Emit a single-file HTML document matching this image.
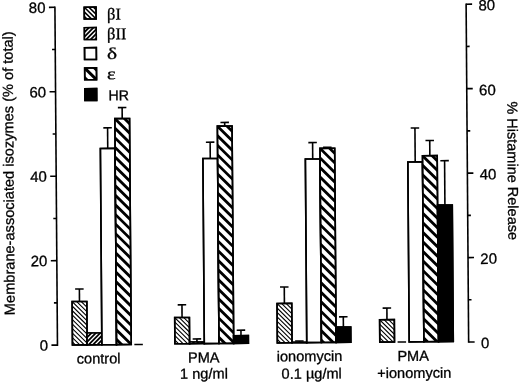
<!DOCTYPE html>
<html><head><meta charset="utf-8"><style>
html,body{margin:0;padding:0;background:#fff;}
svg{display:block;will-change:transform;}
text{font-family:"Liberation Sans",sans-serif;fill:#000;stroke:#000;stroke-width:0.3px;}
.sf{font-family:"Liberation Serif",serif;}
</style></head><body>
<svg width="520" height="383" viewBox="0 0 520 383">
<rect width="520" height="383" fill="#fff"/>
<g transform="rotate(-0.4297 260 190)">
<g stroke="#000" stroke-width="1.60" fill="none">
<line x1="56.30" y1="5.76" x2="56.30" y2="343.60" stroke-linecap="square"/>
<line x1="467.50" y1="5.76" x2="467.50" y2="343.60" stroke-linecap="square"/>
<line x1="50.30" y1="343.60" x2="56.30" y2="343.60"/>
<line x1="467.50" y1="343.60" x2="473.50" y2="343.60"/>
<line x1="53.10" y1="301.37" x2="56.30" y2="301.37"/>
<line x1="467.50" y1="301.37" x2="470.70" y2="301.37"/>
<line x1="50.30" y1="259.14" x2="56.30" y2="259.14"/>
<line x1="467.50" y1="259.14" x2="473.50" y2="259.14"/>
<line x1="53.10" y1="216.91" x2="56.30" y2="216.91"/>
<line x1="467.50" y1="216.91" x2="470.70" y2="216.91"/>
<line x1="50.30" y1="174.68" x2="56.30" y2="174.68"/>
<line x1="467.50" y1="174.68" x2="473.50" y2="174.68"/>
<line x1="53.10" y1="132.45" x2="56.30" y2="132.45"/>
<line x1="467.50" y1="132.45" x2="470.70" y2="132.45"/>
<line x1="50.30" y1="90.22" x2="56.30" y2="90.22"/>
<line x1="467.50" y1="90.22" x2="473.50" y2="90.22"/>
<line x1="53.10" y1="47.99" x2="56.30" y2="47.99"/>
<line x1="467.50" y1="47.99" x2="470.70" y2="47.99"/>
<line x1="50.30" y1="5.76" x2="56.30" y2="5.76"/>
<line x1="467.50" y1="5.76" x2="473.50" y2="5.76"/>
<clipPath id="c1"><rect x="71.30" y="300.14" width="14.70" height="43.46"/></clipPath><rect x="71.30" y="300.14" width="14.70" height="43.46" fill="#fff"/><path clip-path="url(#c1)" d="M18.80 297.14L68.26 346.60M23.30 297.14L72.76 346.60M27.80 297.14L77.26 346.60M32.30 297.14L81.76 346.60M36.80 297.14L86.26 346.60M41.30 297.14L90.76 346.60M45.80 297.14L95.26 346.60M50.30 297.14L99.76 346.60M54.80 297.14L104.26 346.60M59.30 297.14L108.76 346.60M63.80 297.14L113.26 346.60M68.30 297.14L117.76 346.60M72.80 297.14L122.26 346.60M77.30 297.14L126.76 346.60M81.80 297.14L131.26 346.60M86.30 297.14L135.76 346.60" stroke="#000" stroke-width="1.10" fill="none"/>
<rect x="71.30" y="300.14" width="14.70" height="43.46"/>
<line x1="78.65" y1="300.14" x2="78.65" y2="287.64"/>
<line x1="74.40" y1="287.64" x2="82.90" y2="287.64"/>
<clipPath id="c2"><rect x="86.00" y="331.75" width="14.70" height="11.85"/></clipPath><rect x="86.00" y="331.75" width="14.70" height="11.85" fill="#000"/><path clip-path="url(#c2)" d="M86.80 328.75L68.95 346.60M91.20 328.75L73.35 346.60M95.60 328.75L77.75 346.60M100.00 328.75L82.15 346.60M104.40 328.75L86.55 346.60M108.80 328.75L90.95 346.60M113.20 328.75L95.35 346.60M117.60 328.75L99.75 346.60M122.00 328.75L104.15 346.60" stroke="#fff" stroke-width="1.35" fill="none"/>
<rect x="86.00" y="331.75" width="14.70" height="11.85"/>
<rect x="100.70" y="147.26" width="14.70" height="196.34" fill="#fff"/>
<rect x="100.70" y="147.26" width="14.70" height="196.34"/>
<line x1="108.05" y1="147.26" x2="108.05" y2="126.66"/>
<line x1="103.80" y1="126.66" x2="112.30" y2="126.66"/>
<clipPath id="c3"><rect x="115.40" y="117.57" width="14.70" height="226.03"/></clipPath><rect x="115.40" y="117.57" width="14.70" height="226.03" fill="#fff"/><path clip-path="url(#c3)" d="M-118.00 114.57L114.03 346.60M-108.40 114.57L123.63 346.60M-98.80 114.57L133.23 346.60M-89.20 114.57L142.83 346.60M-79.60 114.57L152.43 346.60M-70.00 114.57L162.03 346.60M-60.40 114.57L171.63 346.60M-50.80 114.57L181.23 346.60M-41.20 114.57L190.83 346.60M-31.60 114.57L200.43 346.60M-22.00 114.57L210.03 346.60M-12.40 114.57L219.63 346.60M-2.80 114.57L229.23 346.60M6.80 114.57L238.83 346.60M16.40 114.57L248.43 346.60M26.00 114.57L258.03 346.60M35.60 114.57L267.63 346.60M45.20 114.57L277.23 346.60M54.80 114.57L286.83 346.60M64.40 114.57L296.43 346.60M74.00 114.57L306.03 346.60M83.60 114.57L315.63 346.60M93.20 114.57L325.23 346.60M102.80 114.57L334.83 346.60M112.40 114.57L344.43 346.60M122.00 114.57L354.03 346.60M131.60 114.57L363.63 346.60" stroke="#000" stroke-width="2.80" fill="none"/>
<rect x="115.40" y="117.57" width="14.70" height="226.03"/>
<line x1="122.75" y1="117.57" x2="122.75" y2="106.57"/>
<line x1="118.50" y1="106.57" x2="127.00" y2="106.57"/>
<line x1="133.20" y1="343.58" x2="141.70" y2="343.58"/>
<clipPath id="c4"><rect x="173.75" y="316.91" width="14.70" height="26.24"/></clipPath><rect x="173.75" y="316.91" width="14.70" height="26.24" fill="#fff"/><path clip-path="url(#c4)" d="M139.25 313.91L171.49 346.15M143.75 313.91L175.99 346.15M148.25 313.91L180.49 346.15M152.75 313.91L184.99 346.15M157.25 313.91L189.49 346.15M161.75 313.91L193.99 346.15M166.25 313.91L198.49 346.15M170.75 313.91L202.99 346.15M175.25 313.91L207.49 346.15M179.75 313.91L211.99 346.15M184.25 313.91L216.49 346.15M188.75 313.91L220.99 346.15" stroke="#000" stroke-width="1.10" fill="none"/>
<rect x="173.75" y="316.91" width="14.70" height="26.24"/>
<line x1="181.10" y1="316.91" x2="181.10" y2="304.21"/>
<line x1="176.85" y1="304.21" x2="185.35" y2="304.21"/>
<clipPath id="c5"><rect x="188.45" y="341.52" width="14.70" height="1.63"/></clipPath><rect x="188.45" y="341.52" width="14.70" height="1.63" fill="#000"/><path clip-path="url(#c5)" d="M189.25 338.52L181.62 346.15M193.65 338.52L186.02 346.15M198.05 338.52L190.42 346.15M202.45 338.52L194.82 346.15M206.85 338.52L199.22 346.15M211.25 338.52L203.62 346.15M215.65 338.52L208.02 346.15" stroke="#fff" stroke-width="1.35" fill="none"/>
<rect x="188.45" y="341.52" width="14.70" height="1.63"/>
<line x1="195.80" y1="341.52" x2="195.80" y2="338.42"/>
<line x1="191.55" y1="338.42" x2="200.05" y2="338.42"/>
<rect x="203.15" y="158.13" width="14.70" height="185.02" fill="#fff"/>
<rect x="203.15" y="158.13" width="14.70" height="185.02"/>
<line x1="210.50" y1="158.13" x2="210.50" y2="141.83"/>
<line x1="206.25" y1="141.83" x2="214.75" y2="141.83"/>
<clipPath id="c6"><rect x="217.85" y="125.84" width="14.70" height="217.31"/></clipPath><rect x="217.85" y="125.84" width="14.70" height="217.31" fill="#fff"/><path clip-path="url(#c6)" d="M-5.95 122.84L217.36 346.15M3.65 122.84L226.96 346.15M13.25 122.84L236.56 346.15M22.85 122.84L246.16 346.15M32.45 122.84L255.76 346.15M42.05 122.84L265.36 346.15M51.65 122.84L274.96 346.15M61.25 122.84L284.56 346.15M70.85 122.84L294.16 346.15M80.45 122.84L303.76 346.15M90.05 122.84L313.36 346.15M99.65 122.84L322.96 346.15M109.25 122.84L332.56 346.15M118.85 122.84L342.16 346.15M128.45 122.84L351.76 346.15M138.05 122.84L361.36 346.15M147.65 122.84L370.96 346.15M157.25 122.84L380.56 346.15M166.85 122.84L390.16 346.15M176.45 122.84L399.76 346.15M186.05 122.84L409.36 346.15M195.65 122.84L418.96 346.15M205.25 122.84L428.56 346.15M214.85 122.84L438.16 346.15M224.45 122.84L447.76 346.15M234.05 122.84L457.36 346.15" stroke="#000" stroke-width="2.80" fill="none"/>
<rect x="217.85" y="125.84" width="14.70" height="217.31"/>
<line x1="225.20" y1="125.84" x2="225.20" y2="122.14"/>
<line x1="220.95" y1="122.14" x2="229.45" y2="122.14"/>
<rect x="232.55" y="335.55" width="14.70" height="7.60" fill="#000"/>
<rect x="232.55" y="335.55" width="14.70" height="7.60"/>
<line x1="239.90" y1="335.55" x2="239.90" y2="330.05"/>
<line x1="235.65" y1="330.05" x2="244.15" y2="330.05"/>
<clipPath id="c7"><rect x="276.20" y="303.58" width="14.70" height="39.37"/></clipPath><rect x="276.20" y="303.58" width="14.70" height="39.37" fill="#fff"/><path clip-path="url(#c7)" d="M228.20 300.58L273.57 345.95M232.70 300.58L278.07 345.95M237.20 300.58L282.57 345.95M241.70 300.58L287.07 345.95M246.20 300.58L291.57 345.95M250.70 300.58L296.07 345.95M255.20 300.58L300.57 345.95M259.70 300.58L305.07 345.95M264.20 300.58L309.57 345.95M268.70 300.58L314.07 345.95M273.20 300.58L318.57 345.95M277.70 300.58L323.07 345.95M282.20 300.58L327.57 345.95M286.70 300.58L332.07 345.95M291.20 300.58L336.57 345.95" stroke="#000" stroke-width="1.10" fill="none"/>
<rect x="276.20" y="303.58" width="14.70" height="39.37"/>
<line x1="283.55" y1="303.58" x2="283.55" y2="287.18"/>
<line x1="279.30" y1="287.18" x2="287.80" y2="287.18"/>
<clipPath id="c8"><rect x="290.90" y="342.59" width="14.70" height="0.36"/></clipPath><rect x="290.90" y="342.59" width="14.70" height="0.36" fill="#000"/><path clip-path="url(#c8)" d="M291.70 339.59L285.34 345.95M296.10 339.59L289.74 345.95M300.50 339.59L294.14 345.95M304.90 339.59L298.54 345.95M309.30 339.59L302.94 345.95M313.70 339.59L307.34 345.95M318.10 339.59L311.74 345.95" stroke="#fff" stroke-width="1.35" fill="none"/>
<rect x="290.90" y="342.59" width="14.70" height="0.36"/>
<line x1="298.25" y1="342.59" x2="298.25" y2="341.29"/>
<line x1="294.00" y1="341.29" x2="302.50" y2="341.29"/>
<rect x="305.60" y="159.40" width="14.70" height="183.55" fill="#fff"/>
<rect x="305.60" y="159.40" width="14.70" height="183.55"/>
<line x1="312.95" y1="159.40" x2="312.95" y2="143.00"/>
<line x1="308.70" y1="143.00" x2="317.20" y2="143.00"/>
<clipPath id="c9"><rect x="320.30" y="148.81" width="14.70" height="194.14"/></clipPath><rect x="320.30" y="148.81" width="14.70" height="194.14" fill="#fff"/><path clip-path="url(#c9)" d="M115.70 145.81L315.84 345.95M125.30 145.81L325.44 345.95M134.90 145.81L335.04 345.95M144.50 145.81L344.64 345.95M154.10 145.81L354.24 345.95M163.70 145.81L363.84 345.95M173.30 145.81L373.44 345.95M182.90 145.81L383.04 345.95M192.50 145.81L392.64 345.95M202.10 145.81L402.24 345.95M211.70 145.81L411.84 345.95M221.30 145.81L421.44 345.95M230.90 145.81L431.04 345.95M240.50 145.81L440.64 345.95M250.10 145.81L450.24 345.95M259.70 145.81L459.84 345.95M269.30 145.81L469.44 345.95M278.90 145.81L479.04 345.95M288.50 145.81L488.64 345.95M298.10 145.81L498.24 345.95M307.70 145.81L507.84 345.95M317.30 145.81L517.44 345.95M326.90 145.81L527.04 345.95M336.50 145.81L536.64 345.95" stroke="#000" stroke-width="2.80" fill="none"/>
<rect x="320.30" y="148.81" width="14.70" height="194.14"/>
<line x1="327.65" y1="148.81" x2="327.65" y2="147.81"/>
<line x1="323.40" y1="147.81" x2="331.90" y2="147.81"/>
<rect x="335.00" y="327.62" width="14.70" height="15.33" fill="#000"/>
<rect x="335.00" y="327.62" width="14.70" height="15.33"/>
<line x1="342.35" y1="327.62" x2="342.35" y2="317.42"/>
<line x1="338.10" y1="317.42" x2="346.60" y2="317.42"/>
<clipPath id="c10"><rect x="378.65" y="320.64" width="14.70" height="22.36"/></clipPath><rect x="378.65" y="320.64" width="14.70" height="22.36" fill="#fff"/><path clip-path="url(#c10)" d="M348.65 317.64L377.01 346.00M353.15 317.64L381.51 346.00M357.65 317.64L386.01 346.00M362.15 317.64L390.51 346.00M366.65 317.64L395.01 346.00M371.15 317.64L399.51 346.00M375.65 317.64L404.01 346.00M380.15 317.64L408.51 346.00M384.65 317.64L413.01 346.00M389.15 317.64L417.51 346.00M393.65 317.64L422.01 346.00" stroke="#000" stroke-width="1.10" fill="none"/>
<rect x="378.65" y="320.64" width="14.70" height="22.36"/>
<line x1="386.00" y1="320.64" x2="386.00" y2="309.05"/>
<line x1="381.75" y1="309.05" x2="390.25" y2="309.05"/>
<line x1="396.45" y1="343.06" x2="404.95" y2="343.06"/>
<rect x="408.05" y="163.07" width="14.70" height="179.93" fill="#fff"/>
<rect x="408.05" y="163.07" width="14.70" height="179.93"/>
<line x1="415.40" y1="163.07" x2="415.40" y2="129.17"/>
<line x1="411.15" y1="129.17" x2="419.65" y2="129.17"/>
<clipPath id="c11"><rect x="422.75" y="156.98" width="14.70" height="186.02"/></clipPath><rect x="422.75" y="156.98" width="14.70" height="186.02" fill="#fff"/><path clip-path="url(#c11)" d="M227.75 153.98L419.77 346.00M237.35 153.98L429.37 346.00M246.95 153.98L438.97 346.00M256.55 153.98L448.57 346.00M266.15 153.98L458.17 346.00M275.75 153.98L467.77 346.00M285.35 153.98L477.37 346.00M294.95 153.98L486.97 346.00M304.55 153.98L496.57 346.00M314.15 153.98L506.17 346.00M323.75 153.98L515.77 346.00M333.35 153.98L525.37 346.00M342.95 153.98L534.97 346.00M352.55 153.98L544.57 346.00M362.15 153.98L554.17 346.00M371.75 153.98L563.77 346.00M381.35 153.98L573.37 346.00M390.95 153.98L582.97 346.00M400.55 153.98L592.57 346.00M410.15 153.98L602.17 346.00M419.75 153.98L611.77 346.00M429.35 153.98L621.37 346.00M438.95 153.98L630.97 346.00" stroke="#000" stroke-width="2.80" fill="none"/>
<rect x="422.75" y="156.98" width="14.70" height="186.02"/>
<line x1="430.10" y1="156.98" x2="430.10" y2="141.78"/>
<line x1="425.85" y1="141.78" x2="434.35" y2="141.78"/>
<rect x="437.45" y="206.39" width="14.70" height="136.61" fill="#000"/>
<rect x="437.45" y="206.39" width="14.70" height="136.61"/>
<line x1="444.80" y1="206.39" x2="444.80" y2="162.09"/>
<line x1="440.55" y1="162.09" x2="449.05" y2="162.09"/>
<clipPath id="c12"><rect x="85.60" y="5.90" width="11.80" height="11.80"/></clipPath><rect x="85.60" y="5.90" width="11.80" height="11.80" fill="#fff"/><path clip-path="url(#c12)" d="M64.20 2.90L82.00 20.70M68.80 2.90L86.60 20.70M73.40 2.90L91.20 20.70M78.00 2.90L95.80 20.70M82.60 2.90L100.40 20.70M87.20 2.90L105.00 20.70M91.80 2.90L109.60 20.70M96.40 2.90L114.20 20.70M101.00 2.90L118.80 20.70" stroke="#000" stroke-width="1.60" fill="none"/>
<rect x="85.60" y="5.90" width="11.80" height="11.80"/>
<clipPath id="c13"><rect x="85.60" y="26.40" width="11.80" height="11.80"/></clipPath><rect x="85.60" y="26.40" width="11.80" height="11.80" fill="#000"/><path clip-path="url(#c13)" d="M86.35 23.40L68.55 41.20M90.85 23.40L73.05 41.20M95.35 23.40L77.55 41.20M99.85 23.40L82.05 41.20M104.35 23.40L86.55 41.20M108.85 23.40L91.05 41.20M113.35 23.40L95.55 41.20M117.85 23.40L100.05 41.20" stroke="#fff" stroke-width="1.40" fill="none"/>
<rect x="85.60" y="26.40" width="11.80" height="11.80"/>
<rect x="85.60" y="46.40" width="11.80" height="11.80" fill="#fff"/>
<rect x="85.60" y="46.40" width="11.80" height="11.80"/>
<clipPath id="c14"><rect x="85.60" y="66.70" width="11.80" height="11.80"/></clipPath><rect x="85.60" y="66.70" width="11.80" height="11.80" fill="#fff"/><path clip-path="url(#c14)" d="M63.00 63.70L80.80 81.50M72.80 63.70L90.60 81.50M82.60 63.70L100.40 81.50M92.40 63.70L110.20 81.50M102.20 63.70L120.00 81.50" stroke="#000" stroke-width="3.00" fill="none"/>
<rect x="85.60" y="66.70" width="11.80" height="11.80"/>
<rect x="85.60" y="87.40" width="11.80" height="11.80" fill="#000"/>
<rect x="85.60" y="87.40" width="11.80" height="11.80"/>
</g>
<text class="sf" x="108.28" y="18.45" font-size="16.5">βI</text>
<text class="sf" x="108.13" y="38.15" font-size="16.5">βII</text>
<text class="sf" transform="translate(107.98,57.85) scale(1.300,1)" font-size="16.5">δ</text>
<text class="sf" transform="translate(107.73,78.05) scale(1.250,1)" font-size="16.5">ε</text>
<text x="109.27" y="99.16" font-size="14.2">HR</text>
<text x="46.9" y="11.26" font-size="15" text-anchor="end">80</text>
<text x="46.9" y="95.72" font-size="15" text-anchor="end">60</text>
<text x="46.9" y="180.18" font-size="15" text-anchor="end">40</text>
<text x="46.9" y="264.64" font-size="15" text-anchor="end">20</text>
<text x="46.9" y="349.10" font-size="15" text-anchor="end">0</text>
<text x="479.8" y="12.06" font-size="15">80</text>
<text x="479.8" y="97.02" font-size="15">60</text>
<text x="479.8" y="181.18" font-size="15">40</text>
<text x="479.8" y="265.54" font-size="15">20</text>
<text x="479.8" y="349.80" font-size="15">0</text>
<text transform="translate(13.8,313.3) rotate(-90)" font-size="14.6">Membrane-associated isozymes (% of total)</text>
<text transform="translate(507.9,103.25) rotate(90)" font-size="14.5">% Histamine Release</text>
<text x="97.40" y="362.29" font-size="14.6" text-anchor="middle">control</text>
<text x="202.51" y="362.08" font-size="14.6" text-anchor="middle">PMA</text>
<text x="202.59" y="378.18" font-size="14.6" text-anchor="middle">1 ng/ml</text>
<text x="308.32" y="361.57" font-size="14.6" text-anchor="middle">ionomycin</text>
<text x="310.29" y="378.89" font-size="14.6" text-anchor="middle">0.1 µg/ml</text>
<text x="411.92" y="362.05" font-size="14.6" text-anchor="middle">PMA</text>
<text x="412.89" y="379.06" font-size="14.6" text-anchor="middle">+ionomycin</text>
</g>
</svg>
</body></html>
